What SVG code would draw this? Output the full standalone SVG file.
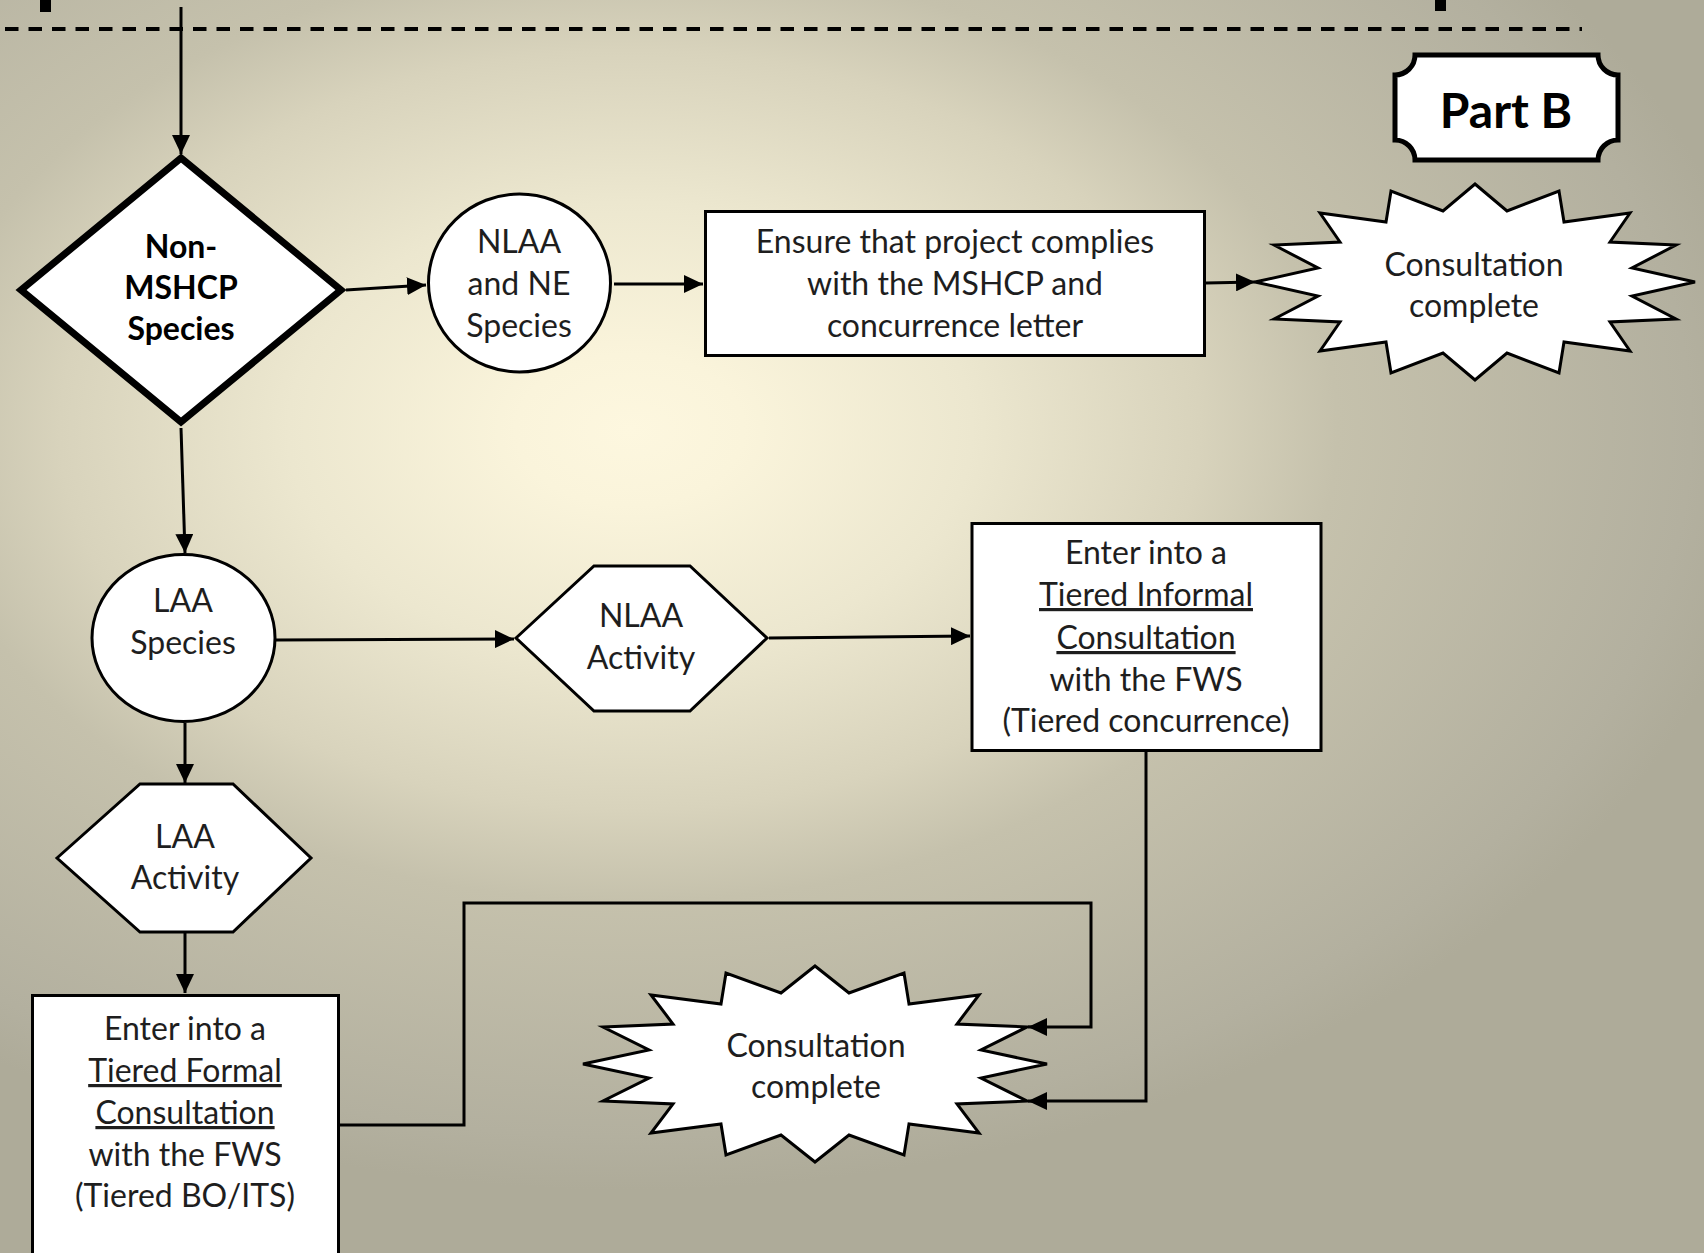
<svg xmlns="http://www.w3.org/2000/svg" width="1704" height="1253" viewBox="0 0 1704 1253">
<defs>
<radialGradient id="bg" gradientUnits="userSpaceOnUse" cx="0" cy="0" r="760" gradientTransform="translate(630,430) scale(1.5,1)">
<stop offset="0" stop-color="#FDF7DF"/>
<stop offset="0.1" stop-color="#FAF4DB"/>
<stop offset="0.3" stop-color="#ECE7CF"/>
<stop offset="0.5" stop-color="#D8D3BC"/>
<stop offset="0.62" stop-color="#C5C1AC"/>
<stop offset="0.93" stop-color="#B3B09F"/>
<stop offset="1" stop-color="#AEAB99"/>
</radialGradient>
<marker id="arr" markerUnits="userSpaceOnUse" markerWidth="20" markerHeight="18" refX="19" refY="9" orient="auto">
<path d="M0,0 L19,9 L0,18 Z" fill="#000"/>
</marker>
<style>
.shape{fill:#fff;stroke:#000;stroke-width:3}
.thick{fill:#fff;stroke:#000;stroke-width:7;stroke-linejoin:miter}
.conn{fill:none;stroke:#000;stroke-width:3}
.t{font-family:Lato,"Liberation Sans",sans-serif;font-size:32px;fill:#1e1e1e;text-anchor:middle}
.b{font-family:Lato,"Liberation Sans",sans-serif;font-size:32px;font-weight:bold;fill:#000;text-anchor:middle}
.u{text-decoration:underline}
</style>
</defs>
<rect x="0" y="0" width="1704" height="1253" fill="url(#bg)"/>
<rect x="40" y="0" width="11" height="12" fill="#000"/>
<rect x="1435" y="0" width="11" height="11" fill="#000"/>
<line x1="5" y1="29" x2="1582" y2="29" stroke="#000" stroke-width="4" stroke-dasharray="13.5 10"/>

<g id="connectors">
<path class="conn" d="M181,7 L181,154" marker-end="url(#arr)"/>
<path class="conn" d="M346,290 L426,285" marker-end="url(#arr)"/>
<path class="conn" d="M614,284 L703,284" marker-end="url(#arr)"/>
<path class="conn" d="M1206,283 L1255,282" marker-end="url(#arr)"/>
<path class="conn" d="M181,428 L185,553" marker-end="url(#arr)"/>
<path class="conn" d="M276,640 L514,639" marker-end="url(#arr)"/>
<path class="conn" d="M769,638 L970,636" marker-end="url(#arr)"/>
<path class="conn" d="M185,723 L185,783" marker-end="url(#arr)"/>
<path class="conn" d="M185,933 L185,993" marker-end="url(#arr)"/>
<path class="conn" d="M340,1125 L464,1125 L464,903 L1091,903 L1091,1027 L1028,1027" marker-end="url(#arr)"/>
<path class="conn" d="M1146,752 L1146,1101 L1028,1101" marker-end="url(#arr)"/>
</g>

<g id="non-mshcp">
<polygon class="thick" points="181,158 341,290 181,422 21,290"/>
<text class="b" x="181" y="258">Non-</text>
<text class="b" x="181" y="299">MSHCP</text>
<text class="b" x="181" y="340">Species</text>
</g>

<g id="nlaa-ne">
<ellipse class="shape" cx="519.5" cy="283" rx="91" ry="89"/>
<text class="t" x="519" y="253">NLAA</text>
<text class="t" x="519" y="295">and NE</text>
<text class="t" x="519" y="337">Species</text>
</g>

<g id="ensure">
<rect class="shape" x="705.5" y="211.5" width="499" height="144"/>
<text class="t" x="955" y="253">Ensure that project complies</text>
<text class="t" x="955" y="295">with the MSHCP and</text>
<text class="t" x="955" y="337">concurrence letter</text>
</g>

<g id="part-b">
<path d="M1415,55 L1598,55 A20,20 0 0 0 1618,75 L1618,140 A20,20 0 0 0 1598,160 L1415,160 A20,20 0 0 0 1395,140 L1395,75 A20,20 0 0 0 1415,55 Z" fill="#fff" stroke="#000" stroke-width="5"/>
<text class="b" x="1506" y="128" style="font-size:48px">Part B</text>
</g>

<g id="complete-1">
<polygon class="shape" points="1475,184 1507,211 1559,191 1564,222 1630,213 1610,242 1676,245 1632,268 1695,282 1632,296 1676,319 1610,322 1630,351 1564,342 1559,373 1507,353 1475,380 1443,353 1391,373 1386,342 1320,351 1340,322 1274,319 1318,296 1255,282 1318,268 1274,245 1340,242 1320,213 1386,222 1391,191 1443,211"/>
<text class="t" x="1474" y="276">Consultation</text>
<text class="t" x="1474" y="317">complete</text>
</g>

<g id="laa-species">
<ellipse class="shape" cx="183.5" cy="638" rx="91.5" ry="83.5"/>
<text class="t" x="183" y="612">LAA</text>
<text class="t" x="183" y="654">Species</text>
</g>

<g id="nlaa-activity">
<polygon class="shape" points="516,638 594,566 690,566 767,638 690,711 594,711"/>
<text class="t" x="641" y="627">NLAA</text>
<text class="t" x="641" y="669">Activity</text>
</g>

<g id="informal">
<rect class="shape" x="972" y="523.5" width="349" height="227"/>
<text class="t" x="1146" y="564">Enter into a</text>
<text class="t u" x="1146" y="606">Tiered Informal</text>
<text class="t u" x="1146" y="649">Consultation</text>
<text class="t" x="1146" y="691">with the FWS</text>
<text class="t" x="1146" y="732">(Tiered concurrence)</text>
</g>

<g id="laa-activity">
<polygon class="shape" points="57,858 140,784 233,784 311,858 233,932 140,932"/>
<text class="t" x="185" y="848">LAA</text>
<text class="t" x="185" y="889">Activity</text>
</g>

<g id="formal">
<rect class="shape" x="32.5" y="995.5" width="306" height="275"/>
<text class="t" x="185" y="1040">Enter into a</text>
<text class="t u" x="185" y="1082">Tiered Formal</text>
<text class="t u" x="185" y="1124">Consultation</text>
<text class="t" x="185" y="1166">with the FWS</text>
<text class="t" x="185" y="1207">(Tiered BO/ITS)</text>
</g>

<g id="complete-2">
<polygon class="shape" points="815,966 849,993 904,973 909,1004 979,995 957,1024 1027,1027 981,1050 1047,1064 981,1078 1027,1101 957,1104 979,1133 909,1124 904,1155 849,1135 815,1162 781,1135 726,1155 721,1124 651,1133 673,1104 603,1101 649,1078 583,1064 649,1050 603,1027 673,1024 651,995 721,1004 726,973 781,993"/>
<text class="t" x="816" y="1057">Consultation</text>
<text class="t" x="816" y="1098">complete</text>
</g>
</svg>
